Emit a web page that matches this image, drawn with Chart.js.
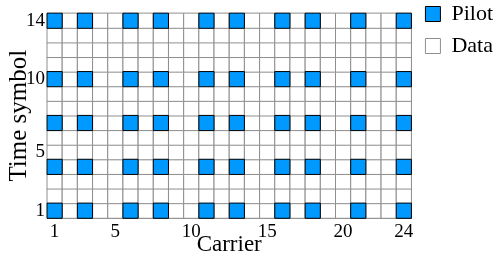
<!DOCTYPE html>
<html lang="en">
<head>
<meta charset="utf-8">
<title>Pilot pattern</title>
<script src="https://cdn.jsdelivr.net/npm/chart.js"></script>
<style>
  html, body { margin: 0; padding: 0; background: #fff; }
  #wrap { width: 495px; height: 264px; }
</style>
</head>
<body>
<div id="wrap"><canvas id="pilotChart"></canvas></div>
<script>
// resource grid: 24 carriers x 14 time symbols
const carriers = ['1','2','3','4','5','6','7','8','9','10','11','12','13','14','15','16','17','18','19','20','21','22','23','24'];
const symbols = ['1','2','3','4','5','6','7','8','9','10','11','12','13','14'];
const pilotCarriers = [1, 3, 6, 8, 11, 13, 16, 18, 21, 24];
const pilotSymbols = [1, 4, 7, 10, 14];
const carrierTicks = [1, 5, 10, 15, 20, 24];
const symbolTicks = [1, 5, 10, 14];

const serif = '"Liberation Serif", "Times New Roman", serif';
const gridGray = '#8e8e8e';

let pilotCells = [];
let dataCells = [];
symbols.forEach(s => {
    carriers.forEach(c => {
        const isPilot = pilotSymbols.includes(+s) && pilotCarriers.includes(+c);
        (isPilot ? pilotCells : dataCells).push({x: c, y: s});
    });
});

// square marker that fills one cell of the grid
function cellRadius(ctx) {
    const area = ctx.chart.chartArea;
    if (!area) return 10.7;
    return ((area.right - area.left) / carriers.length) / Math.SQRT2;
}

const legendNudge = {
    id: 'legendNudge',
    afterLayout(chart) {
        chart.legend.top -= 13;
        chart.legend.left += 4;
    }
};

new Chart(document.getElementById('pilotChart'), {
    type: 'scatter',
    data: {
        datasets: [{
            label: 'Pilot',
            data: pilotCells,
            pointStyle: 'rect',
            backgroundColor: '#0099ff',
            borderColor: '#000000',
            borderWidth: 1,
            radius: cellRadius,
            hoverRadius: cellRadius
        }, {
            label: 'Data',
            data: dataCells,
            pointStyle: 'rect',
            backgroundColor: '#ffffff',
            borderColor: gridGray,
            borderWidth: 1,
            radius: cellRadius,
            hoverRadius: cellRadius
        }]
    },
    options: {
        responsive: true,
        maintainAspectRatio: false,
        animation: false,
        layout: { padding: { top: 6, right: -4, left: 0, bottom: 0 } },
        plugins: {
            tooltip: { enabled: false },
            legend: {
                position: 'right',
                align: 'start',
                labels: {
                    usePointStyle: true,
                    boxWidth: 15,
                    boxHeight: 15,
                    padding: 10,
                    color: '#000',
                    font: { family: serif, size: 22 }
                }
            }
        },
        scales: {
            x: {
                type: 'category',
                labels: carriers,
                offset: true,
                grid: { offset: true, color: gridGray, lineWidth: 1, drawTicks: false },
                border: { color: gridGray },
                ticks: {
                    autoSkip: false,
                    maxRotation: 0,
                    padding: 3,
                    color: '#000',
                    font: { family: serif, size: 19 },
                    callback: function (v) {
                        const lab = this.getLabelForValue(v);
                        return carrierTicks.includes(+lab) ? lab : '';
                    }
                },
                title: {
                    display: true,
                    text: 'Carrier',
                    color: '#000',
                    font: { family: serif, size: 23, lineHeight: 1 },
                    padding: { top: 0, bottom: 8 }
                },
                afterFit(scale) { scale.height = 46; }
            },
            y: {
                type: 'category',
                labels: symbols,
                reverse: true,
                offset: true,
                grid: { offset: true, color: gridGray, lineWidth: 1, drawTicks: false },
                border: { color: gridGray },
                ticks: {
                    autoSkip: false,
                    padding: 2,
                    color: '#000',
                    font: { family: serif, size: 19 },
                    callback: function (v) {
                        const lab = this.getLabelForValue(v);
                        return symbolTicks.includes(+lab) ? lab : '';
                    }
                },
                title: {
                    display: true,
                    text: 'Time symbol',
                    color: '#000',
                    font: { family: serif, size: 25, lineHeight: 1 },
                    padding: { top: 7, bottom: 0 }
                },
                afterFit(scale) { scale.width = 47; }
            }
        }
    },
    plugins: [legendNudge]
});
</script>
</body>
</html>
